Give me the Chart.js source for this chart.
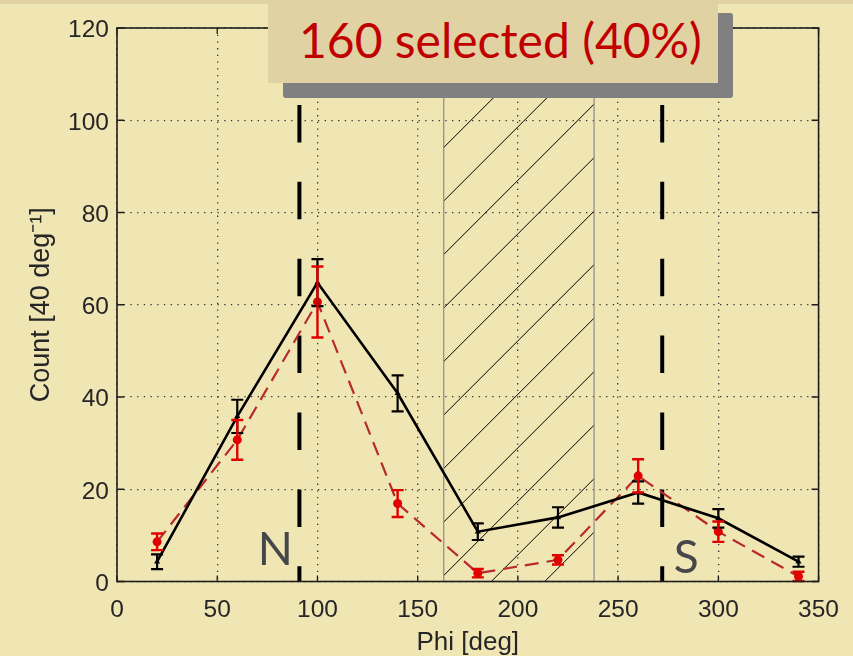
<!DOCTYPE html>
<html><head><meta charset="utf-8">
<script src="https://cdn.jsdelivr.net/npm/chart.js@4"></script>
<style>
html,body{margin:0;padding:0;background:#efe6b4;overflow:hidden}
#wrap{position:relative;width:853px;height:656px;background:#efe6b4}
#band{position:absolute;left:0;top:0;width:853px;height:4px;background:#e0d2a2}
#shadow{position:absolute;left:283px;top:13px;width:450px;height:85px;background:#808080;border-radius:3px}
#box{position:absolute;left:268px;top:0;width:450px;height:83px;background:#e0d2a2}
#boxText{position:absolute;left:299px;top:16px;font-family:Lato,'Open Sans',sans-serif;font-size:48px;line-height:48px;color:#c00000;white-space:nowrap}
canvas{position:absolute;left:0;top:0}
</style></head>
<body><div id="wrap">
<canvas id="c" width="853" height="656"></canvas>
<div id="band"></div>
<div id="shadow"></div>
<div id="box"></div>
<div id="boxText">160 selected (40%)</div>
</div>
<script>
// ---- data ----
const phi = [20, 60, 100, 140, 180, 220, 260, 300, 340];
const allCounts = [4.3, 35.8, 64.8, 40.8, 10.8, 13.9, 19.3, 13.7, 4.3];
const allErrors = [1.6, 3.6, 5.1, 3.9, 1.8, 2.2, 2.4, 2.0, 1.1];
const selCounts = [8.6, 30.7, 60.6, 16.9, 1.8, 4.7, 22.9, 10.8, 1.1];
const selErrors = [1.8, 4.3, 7.7, 2.9, 0.9, 1.0, 3.6, 2.2, 1.0];
const xTicks = [0, 50, 100, 150, 200, 250, 300, 350];
const yTicks = [0, 20, 40, 60, 80, 100, 120];
const markerPhi = [91, 272];          // vertical dashed markers
const markerText = ['N', 'S'];
const markerTextX = [79, 284];
const markerTextY = [3.6, 1.9];
const hatchRange = [163, 238];        // excluded phi range
const hatchTop = 110;

const axisFont = "'Liberation Sans Narrow','Liberation Sans',Arial,sans-serif";
const frameColor = '#1e1e1e';

const errorBars = {
  id: 'errorBars',
  afterDatasetsDraw(chart) {
    const {ctx, scales: {x, y}} = chart;
    const draw = (vals, errs, color, w) => {
      ctx.save();
      ctx.strokeStyle = color; ctx.lineWidth = w;
      vals.forEach((v, i) => {
        const px = x.getPixelForValue(phi[i]);
        const t = y.getPixelForValue(v + errs[i]);
        const b = y.getPixelForValue(Math.max(0, v - errs[i]));
        ctx.beginPath();
        ctx.moveTo(px, t); ctx.lineTo(px, b);
        ctx.moveTo(px - 6, t); ctx.lineTo(px + 6, t);
        ctx.moveTo(px - 6, b); ctx.lineTo(px + 6, b);
        ctx.stroke();
      });
      ctx.restore();
    };
    draw(allCounts, allErrors, '#000000', 2.2);
    draw(selCounts, selErrors, '#e00000', 2.4);
  }
};

const decor = {
  id: 'decor',
  beforeDatasetsDraw(chart) {
    const {ctx, scales: {x, y}} = chart;
    const l = x.getPixelForValue(hatchRange[0]), r = x.getPixelForValue(hatchRange[1]);
    const t = y.getPixelForValue(hatchTop), b = y.getPixelForValue(0);
    ctx.save();
    ctx.beginPath(); ctx.rect(l, t, r - l, b - t); ctx.clip();
    ctx.strokeStyle = '#000'; ctx.lineWidth = 1;
    ctx.beginPath();
    for (let k = -15; k < 15; k++) {
      const x0 = l - 6 + k * 53.5;
      ctx.moveTo(x0, b); ctx.lineTo(x0 + (b - t), t);
    }
    ctx.stroke();
    ctx.restore();
    ctx.save();
    ctx.strokeStyle = '#8a8a8a'; ctx.lineWidth = 1.2;
    ctx.strokeRect(l, t, r - l, b - t);
    ctx.restore();
  },
  afterDraw(chart) {
    const {ctx, chartArea: a, scales: {x, y}} = chart;
    ctx.save();
    ctx.strokeStyle = frameColor; ctx.lineWidth = 1.3;
    ctx.beginPath();
    xTicks.forEach(v => { const p = x.getPixelForValue(v);
      ctx.moveTo(p, a.bottom); ctx.lineTo(p, a.bottom - 6);
      ctx.moveTo(p, a.top); ctx.lineTo(p, a.top + 6); });
    yTicks.forEach(v => { const p = y.getPixelForValue(v);
      ctx.moveTo(a.left, p); ctx.lineTo(a.left + 7, p);
      ctx.moveTo(a.right, p); ctx.lineTo(a.right - 7, p); });
    ctx.stroke();
    ctx.lineWidth = 1.6;
    ctx.strokeRect(a.left, a.top, a.right - a.left, a.bottom - a.top);
    ctx.fillStyle = '#45474b';
    ctx.font = "46px Lato, 'Open Sans', sans-serif";
    ctx.textAlign = 'center'; ctx.textBaseline = 'alphabetic';
    markerText.forEach((s, i) => ctx.fillText(s, x.getPixelForValue(markerTextX[i]), y.getPixelForValue(markerTextY[i])));
    ctx.restore();
  }
};

const datasets = [
  { label: 'selected', data: phi.map((p, i) => ({x: p, y: selCounts[i]})),
    borderColor: '#b82a2e', borderWidth: 2.2, borderDash: [14, 8],
    pointRadius: 4.5, pointBackgroundColor: '#e00000', pointBorderColor: '#e00000', pointBorderWidth: 0,
    tension: 0, order: 2 },
  { label: 'all', data: phi.map((p, i) => ({x: p, y: allCounts[i]})),
    borderColor: '#000000', borderWidth: 2.6,
    pointRadius: 3.5, pointStyle: 'triangle', pointBackgroundColor: '#000', pointBorderColor: '#000', pointBorderWidth: 0,
    tension: 0, order: 1 },
];
markerPhi.forEach(m => datasets.push({
  data: [{x: m, y: 120}, {x: m, y: 0}], borderColor: '#000', borderWidth: 4,
  borderDash: [37.5, 39.4], pointRadius: 0, order: 3, borderCapStyle: 'butt'
}));

new Chart(document.getElementById('c'), {
  type: 'scatter',
  data: { datasets: datasets.map(d => Object.assign({showLine: true}, d)) },
  options: {
    responsive: false, animation: false,
    layout: { padding: { top: 28, right: 33, left: 0, bottom: 0 } },
    plugins: { legend: { display: false }, tooltip: { enabled: false } },
    scales: {
      x: {
        type: 'linear', min: 0, max: 350,
        afterBuildTicks: s => { s.ticks = xTicks.map(v => ({value: v})); },
        afterFit: s => { s.height = 74.5; },
        grid: { color: '#333', lineWidth: 1.3, drawTicks: false },
        border: { display: false, dash: [1.3, 5.4] },
        ticks: { color: '#262626', font: { family: axisFont, size: 24.5 }, padding: 14, maxRotation: 0 },
        title: { display: true, text: 'Phi [deg]', color: '#262626', font: { family: axisFont, size: 26, lineHeight: 1 }, padding: { top: 0, bottom: 0 } }
      },
      y: {
        type: 'linear', min: 0, max: 120,
        afterBuildTicks: s => { s.ticks = yTicks.map(v => ({value: v})); },
        afterFit: s => { s.width = 117; },
        grid: { color: '#333', lineWidth: 1.3, drawTicks: false },
        border: { display: false, dash: [1.3, 5.4] },
        ticks: { color: '#262626', font: { family: axisFont, size: 24.5 }, padding: 8, labelOffset: 2.5 },
        title: { display: true, text: 'Count [40 deg⁻¹]', color: '#262626', font: { family: axisFont, size: 27, lineHeight: 1 }, padding: { top: 28, bottom: 0 } }
      }
    }
  },
  plugins: [errorBars, decor]
});
</script>
</body></html>
